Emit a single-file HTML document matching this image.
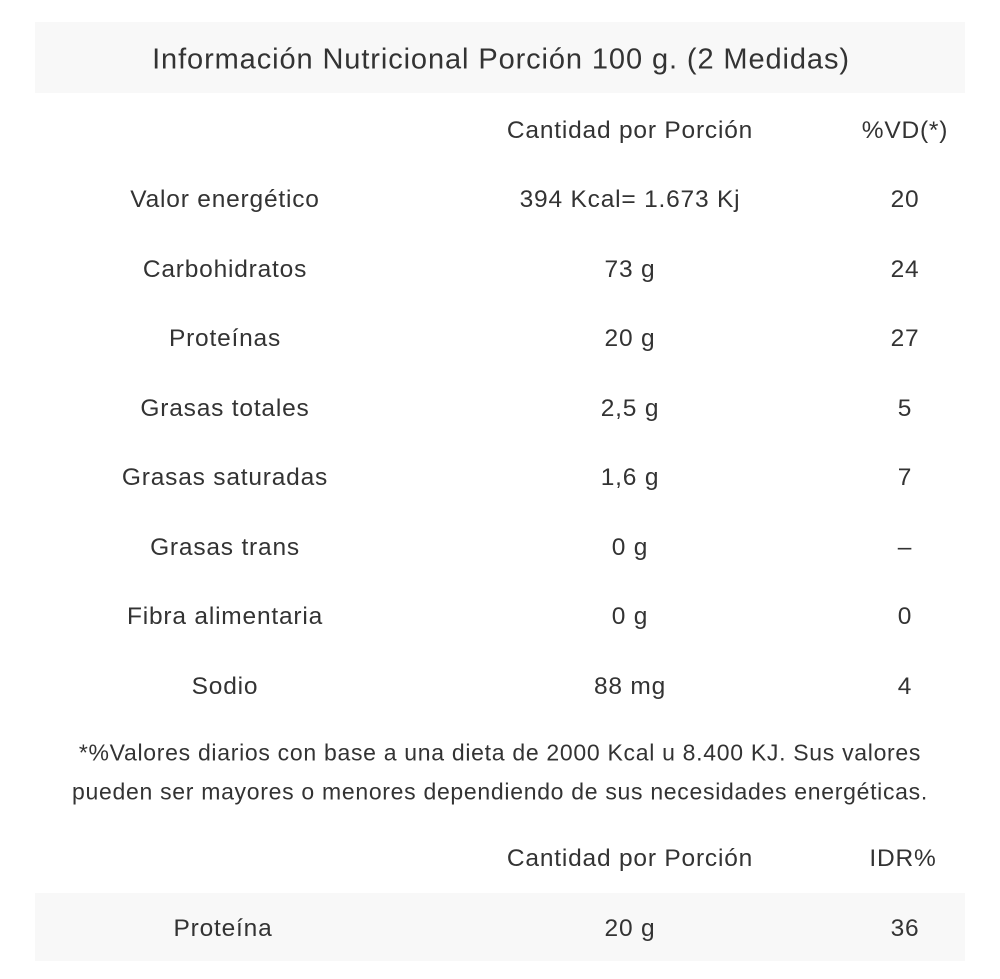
<!DOCTYPE html>
<html><head><meta charset="utf-8"><style>
body{margin:0;width:1000px;height:979px;background:#fff;position:relative;overflow:hidden;font-family:"Liberation Sans",sans-serif;color:#333;}
.band{position:absolute;left:35px;width:930px;background:#f8f8f8;}
.t{position:absolute;white-space:nowrap;transform:translate(-50%,-50%);font-size:24.5px;letter-spacing:0.8px;margin-top:1px;}
</style></head><body>
<div class="band" style="top:22px;height:71px"></div>
<div class="band" style="top:893px;height:68px"></div>
<div class="t" style="left:501px;top:59px;font-size:29px;letter-spacing:0.9px">Información Nutricional Porción 100 g. (2 Medidas)</div>
<div class="t" style="left:630px;top:130px">Cantidad por Porción</div>
<div class="t" style="left:905px;top:130px">%VD(*)</div>

<div class="t" style="left:225px;top:199px">Valor energético</div>
<div class="t" style="left:630px;top:199px">394 Kcal= 1.673 Kj</div>
<div class="t" style="left:905px;top:199px">20</div>

<div class="t" style="left:225px;top:269px">Carbohidratos</div>
<div class="t" style="left:630px;top:269px">73 g</div>
<div class="t" style="left:905px;top:269px">24</div>

<div class="t" style="left:225px;top:338px">Proteínas</div>
<div class="t" style="left:630px;top:338px">20 g</div>
<div class="t" style="left:905px;top:338px">27</div>

<div class="t" style="left:225px;top:408px">Grasas totales</div>
<div class="t" style="left:630px;top:408px">2,5 g</div>
<div class="t" style="left:905px;top:408px">5</div>

<div class="t" style="left:225px;top:477px">Grasas saturadas</div>
<div class="t" style="left:630px;top:477px">1,6 g</div>
<div class="t" style="left:905px;top:477px">7</div>

<div class="t" style="left:225px;top:547px">Grasas trans</div>
<div class="t" style="left:630px;top:547px">0 g</div>
<div class="t" style="left:905px;top:547px">–</div>

<div class="t" style="left:225px;top:616px">Fibra alimentaria</div>
<div class="t" style="left:630px;top:616px">0 g</div>
<div class="t" style="left:905px;top:616px">0</div>

<div class="t" style="left:225px;top:686px">Sodio</div>
<div class="t" style="left:630px;top:686px">88 mg</div>
<div class="t" style="left:905px;top:686px">4</div>

<div class="t" style="left:500px;top:752px;font-size:23px;letter-spacing:0.7px">*%Valores diarios con base a una dieta de 2000 Kcal u 8.400 KJ. Sus valores</div>
<div class="t" style="left:500px;top:791px;font-size:23px;letter-spacing:0.7px">pueden ser mayores o menores dependiendo de sus necesidades energéticas.</div>

<div class="t" style="left:630px;top:858px">Cantidad por Porción</div>
<div class="t" style="left:903px;top:858px">IDR%</div>
<div class="t" style="left:223px;top:928px">Proteína</div>
<div class="t" style="left:630px;top:928px">20 g</div>
<div class="t" style="left:905px;top:928px">36</div>
</body></html>
